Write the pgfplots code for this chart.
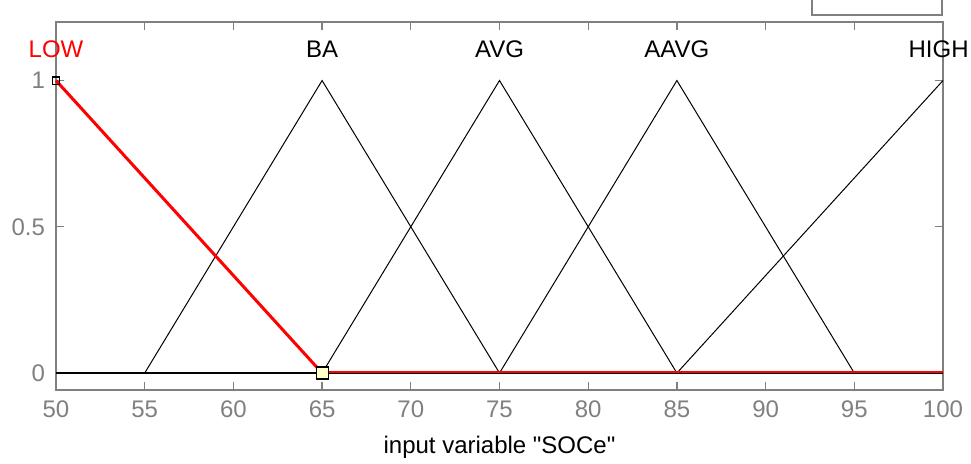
\documentclass[border=0pt]{standalone}
\usepackage{fontspec}
\setmainfont{Liberation Sans}
\usepackage{pgfplots}
\pgfplotsset{compat=1.18}

\definecolor{axgray}{RGB}{128,128,128}
\definecolor{mfred}{RGB}{255,0,0}
\definecolor{markfill}{RGB}{255,255,200}

\begin{document}
\begin{tikzpicture}
% page = 971x463 px at 0.5pt per px, axis box at origin
\useasboundingbox (-28pt,-36.5pt) rectangle (457.5pt,195pt);
\begin{axis}[
  at={(0,0)}, anchor=south west,
  scale only axis,
  width=443.5pt, height=184pt,
  xmin=50, xmax=100,
  ymin=-0.058, ymax=1.2,
  xtick={50,55,...,100},
  ytick={0,0.5,1},
  tick align=inside,
  major tick length=4pt,
  axis line style={draw=axgray, line width=0.65pt},
  every tick/.style={draw=axgray, line width=0.65pt},
  ticklabel style={font=\fontsize{12}{14}\selectfont, text=axgray},
  /pgf/number format/assume math mode=true,
  xticklabel style={yshift=-2pt},
  yticklabel style={xshift=-2pt},
  xlabel={input variable \textquotedbl SOCe\textquotedbl},
  xlabel style={font=\fontsize{12}{14}\selectfont, yshift=-2pt},
  clip=false,
]
% zero line
\addplot[black, line width=0.6pt] coordinates {(50,0) (100,0)};
% BA
\addplot[black, line width=0.5pt] coordinates {(50,0) (55,0) (65,1) (75,0) (100,0)};
% AVG
\addplot[black, line width=0.5pt] coordinates {(50,0) (65,0) (75,1) (85,0) (100,0)};
% AAVG
\addplot[black, line width=0.5pt] coordinates {(50,0) (75,0) (85,1) (95,0) (100,0)};
% HIGH
\addplot[black, line width=0.5pt] coordinates {(50,0) (85,0) (100,1)};
% LOW selected marker
\addplot[only marks, mark=square*, mark size=3pt, mark options={draw=black, fill=markfill, line width=0.6pt}] coordinates {(65,0)};
% LOW (selected, red)
\addplot[mfred, line width=1.5pt] coordinates {(50,1) (65,0)};
\addplot[mfred, line width=1.1pt] coordinates {(65,0.004) (100,0.004)};
\addplot[only marks, mark=square, mark size=1.8pt, mark options={draw=black, line width=0.6pt}] coordinates {(50,1)};
% labels
\node[font=\fontsize{12}{14}\selectfont, text=mfred] at (axis cs:50,1.108) {LOW};
\node[font=\fontsize{12}{14}\selectfont] at (axis cs:65,1.108) {BA};
\node[font=\fontsize{12}{14}\selectfont] at (axis cs:75,1.108) {AVG};
\node[font=\fontsize{12}{14}\selectfont] at (axis cs:85,1.108) {AAVG};
\node[font=\fontsize{12}{14}\selectfont, anchor=east, inner xsep=0pt, xshift=13pt] at (axis cs:100,1.108) {HIGH};
\end{axis}
% partial box above the axis
\draw[axgray, line width=0.65pt] (378pt,200pt) -- (378pt,187.5pt) -- (443pt,187.5pt) -- (443pt,200pt);
\end{tikzpicture}
\end{document}
